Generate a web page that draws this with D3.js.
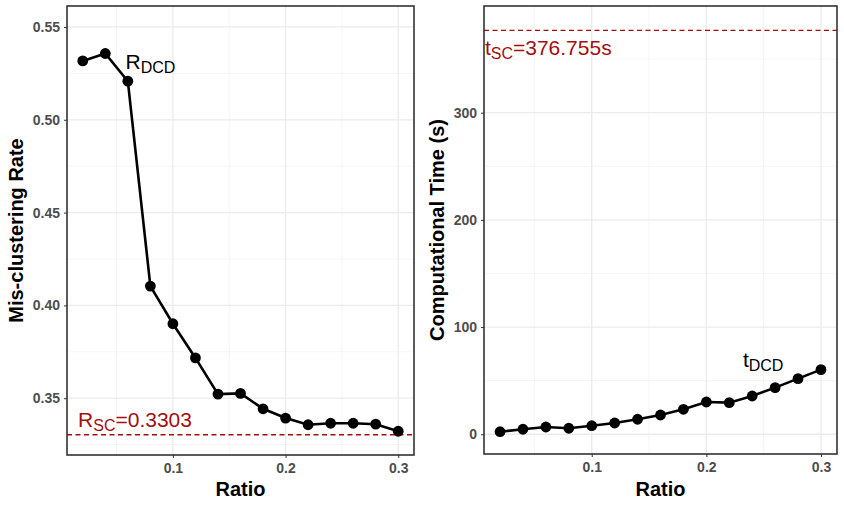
<!DOCTYPE html>
<html>
<head>
<meta charset="utf-8">
<script src="https://cdn.jsdelivr.net/npm/d3@7"></script>
<style>
  body { margin: 0; background: #fff; }
  svg { font-family: "Liberation Sans", Arial, Helvetica, sans-serif; }
  .tick text { font-weight: bold; fill: #4d4d4d; font-size: 14px; }
  .title { font-weight: bold; font-size: 20px; fill: #000; }
</style>
</head>
<body>
<svg width="844" height="507"></svg>
<script>
"use strict";

// sampling ratios shared by both panels
const ratios = [0.02, 0.04, 0.06, 0.08, 0.10, 0.12, 0.14, 0.16, 0.18, 0.20, 0.22, 0.24, 0.26, 0.28, 0.30];
// mis-clustering rate of DCD
const rateDCD = [0.5317, 0.5357, 0.5208, 0.4104, 0.3901, 0.3717, 0.3522, 0.3526, 0.3443, 0.3393, 0.3357, 0.3365, 0.3365, 0.3360, 0.3322];
// computational time of DCD (s)
const timeDCD = [2.4, 4.7, 6.8, 5.6, 8.0, 10.5, 14.0, 18.0, 23.3, 30.1, 29.5, 35.7, 43.5, 51.9, 60.3];
const rateSC = 0.3303;
const timeSC = 376.755;

const xTicks = [0.1, 0.2, 0.3];
const xMinor = [0.05, 0.15, 0.25];
const rateTicks = [0.35, 0.40, 0.45, 0.50, 0.55];
const rateMinor = [0.325, 0.375, 0.425, 0.475, 0.525];
const timeTicks = [0, 100, 200, 300];
const timeMinor = [50, 150, 250, 350];

const red = "#a30e0e";
const svg = d3.select("svg");

function drawPanel(p) {
    const x = d3.scaleLinear().domain([0.006, 0.314]).range([p.left, p.right]);
    const y = d3.scaleLinear().domain(p.yDomain).range([p.bottom, p.top]);
    const g = svg.append("g");

    // grid
    g.selectAll(".vmin").data(xMinor).enter().append("line")
        .attr("x1", d => x(d)).attr("x2", d => x(d))
        .attr("y1", p.top).attr("y2", p.bottom)
        .attr("stroke", "#f2f2f2").attr("stroke-width", 0.8);
    g.selectAll(".hmin").data(p.yMinor).enter().append("line")
        .attr("y1", d => y(d)).attr("y2", d => y(d))
        .attr("x1", p.left).attr("x2", p.right)
        .attr("stroke", "#f2f2f2").attr("stroke-width", 0.8);
    g.selectAll(".vmaj").data(xTicks).enter().append("line")
        .attr("x1", d => x(d)).attr("x2", d => x(d))
        .attr("y1", p.top).attr("y2", p.bottom)
        .attr("stroke", "#ebebeb").attr("stroke-width", 1.3);
    g.selectAll(".hmaj").data(p.yTicks).enter().append("line")
        .attr("y1", d => y(d)).attr("y2", d => y(d))
        .attr("x1", p.left).attr("x2", p.right)
        .attr("stroke", "#ebebeb").attr("stroke-width", 1.3);

    // reference line from SC
    g.append("line")
        .attr("x1", p.left).attr("x2", p.right)
        .attr("y1", y(p.ref)).attr("y2", y(p.ref))
        .attr("stroke", red).attr("stroke-width", 1.3)
        .attr("stroke-dasharray", "5,3.5");

    // DCD line and points
    const pts = ratios.map((r, i) => [r, p.values[i]]);
    g.append("path")
        .datum(pts)
        .attr("fill", "none")
        .attr("stroke", "#000")
        .attr("stroke-width", 2.6)
        .attr("d", d3.line().x(d => x(d[0])).y(d => y(d[1])));
    g.selectAll(".pt").data(pts).enter().append("circle")
        .attr("cx", d => x(d[0])).attr("cy", d => y(d[1]))
        .attr("r", 5.4).attr("fill", "#000");

    // axes
    const xAxis = g.append("g")
        .attr("transform", `translate(0, ${p.bottom})`)
        .call(d3.axisBottom(x).tickValues(xTicks).tickFormat(d3.format(".1f")).tickSize(3).tickPadding(5));
    const yAxis = g.append("g")
        .attr("transform", `translate(${p.left}, 0)`)
        .call(d3.axisLeft(y).tickValues(p.yTicks).tickFormat(p.fmt).tickSize(3).tickPadding(4));
    [xAxis, yAxis].forEach(a => {
        a.select(".domain").remove();
        a.selectAll(".tick line").attr("stroke", "#333");
    });

    // border
    g.append("rect")
        .attr("x", p.left).attr("y", p.top)
        .attr("width", p.right - p.left).attr("height", p.bottom - p.top)
        .attr("fill", "none").attr("stroke", "#333").attr("stroke-width", 1.6);

    // titles
    g.append("text").attr("class", "title")
        .attr("x", (p.left + p.right) / 2).attr("y", 496)
        .attr("text-anchor", "middle").text("Ratio");
    g.append("text").attr("class", "title")
        .attr("transform", `translate(${p.titleX}, ${(p.top + p.bottom) / 2}) rotate(-90)`)
        .attr("text-anchor", "middle").text(p.yTitle);

    // annotations
    p.labels.forEach(l => {
        const t = g.append("text")
            .attr("x", x(l.x)).attr("y", y(l.y))
            .attr("font-size", 21).attr("fill", l.color);
        t.append("tspan").text(l.main);
        t.append("tspan").attr("font-size", 16).attr("dy", 4).text(l.sub);
        if (l.rest) t.append("tspan").attr("dy", -4).text(l.rest);
    });
}

drawPanel({
    left: 67, right: 414, top: 6, bottom: 455,
    yDomain: [0.3194, 0.5613],
    yTicks: rateTicks, yMinor: rateMinor, fmt: d3.format(".2f"),
    values: rateDCD, ref: rateSC,
    yTitle: "Mis-clustering Rate", titleX: 23,
    labels: [
        {x: 0.058, y: 0.5274, main: "R", sub: "DCD", color: "#000"},
        {x: 0.0158, y: 0.3344, main: "R", sub: "SC", rest: "=0.3303", color: red}
    ]
});

drawPanel({
    left: 484, right: 837, top: 6, bottom: 454,
    yDomain: [-18.4, 399.5],
    yTicks: timeTicks, yMinor: timeMinor, fmt: d3.format("d"),
    values: timeDCD, ref: timeSC,
    yTitle: "Computational Time (s)", titleX: 444,
    labels: [
        {x: 0.2319, y: 63, main: "t", sub: "DCD", color: "#000"},
        {x: 0.0068, y: 353.8, main: "t", sub: "SC", rest: "=376.755s", color: red}
    ]
});
</script>
</body>
</html>
